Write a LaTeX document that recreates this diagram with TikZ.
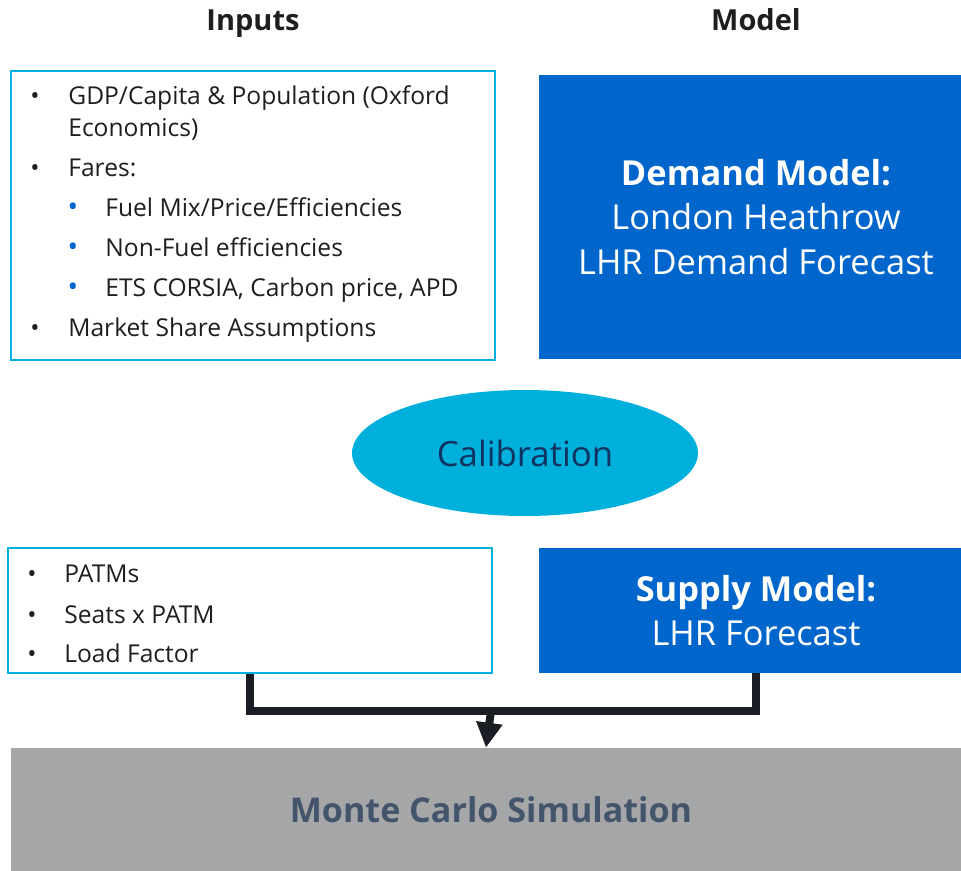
\documentclass[tikz,border=0pt]{standalone}
\usepackage{fontspec}
\setmainfont{Open Sans}
\usetikzlibrary{arrows.meta,positioning,calc,shapes.geometric}
\definecolor{incyan}{HTML}{00B0E0}
\definecolor{modblue}{HTML}{0066CC}
\definecolor{calfill}{HTML}{00B0DC}
\definecolor{caltext}{HTML}{0F3462}
\definecolor{mcgray}{HTML}{A5A6A8}
\definecolor{mctext}{HTML}{44546A}
\definecolor{flowink}{HTML}{1A1D24}
\definecolor{txt}{HTML}{1E1E1E}
\newlength\pix
\setlength\pix{0.02cm}
\tikzset{
  inbox/.style={draw=incyan, line width=2.2\pix, minimum width=484\pix, inner sep=0pt},
  modbox/.style={fill=modblue, text=white, align=center, minimum width=422\pix, inner sep=0pt,
    font=\fontsize{19.6}{25.5}\selectfont},
  flowline/.style={draw=flowink, line width=8\pix},
}

\begin{document}
\begin{tikzpicture}[
  x=0.02cm, y=-0.02cm,
  item/.style={anchor=base west, inner sep=0pt, text=txt, font=\fontsize{14}{16}\selectfont},
  dot/.style={anchor=base, inner sep=0pt, text=txt, font=\fontsize{14}{16}\selectfont},
  head/.style={anchor=base, font=\fontsize{16.5}{19}\selectfont\bfseries, text=txt},
]
  \useasboundingbox (0,0) rectangle (961,871);
  \node[head] (hin) at (253,31) {Inputs};
  \node[head] (hmod) at (756,31) {Model};

  % inputs for the demand model
  \node[inbox, minimum height=289\pix] (in1) at (253,215.5) {};
  \foreach \y [count=\i] in {105,177,337}
    \node[dot] (d\i) at (35,\y) {•};
  \foreach \y [count=\i] in {217,257,297}
    \node[dot, text=modblue, font=\fontsize{16}{16}\selectfont] (s\i) at (73,\y) {•};
  \node[item] (g1) at (68,105) {GDP/Capita \& Population (Oxford};
  \node[item] (g2) at (68,137) {Economics)};
  \node[item] (fa) at (68,177) {Fares:};
  \node[item] (f1) at (105,217) {Fuel Mix/Price/Efficiencies};
  \node[item] (f2) at (105,257) {Non-Fuel efficiencies};
  \node[item] (f3) at (105,297) {ETS CORSIA, Carbon price, APD};
  \node[item] (ms) at (68,337) {Market Share Assumptions};

  \node[modbox, minimum height=284\pix] (dem) at (750,217)
    {\hspace{12\pix}\textbf{Demand Model:}\\\hspace{12\pix}London Heathrow\\\hspace{12\pix}LHR Demand Forecast};

  \node[ellipse, fill=calfill, text=caltext, minimum width=346\pix, minimum height=126\pix,
    inner sep=0pt, font=\fontsize{19.8}{22}\selectfont] (cal) at (525,453) {Calibration};

  % inputs for the supply model
  \node[inbox, minimum height=125\pix] (in2) at (250,610.5) {};
  \foreach \y [count=\i] in {583,623,663}
    \node[dot] (e\i) at (32,\y) {•};
  \node[item] (p1) at (64,583) {PATMs};
  \node[item] (p2) at (64,623) {Seats x PATM};
  \node[item] (p3) at (64,663) {Load Factor};

  \node[modbox, minimum height=125\pix] (sup) at (750,610.5)
    {\hspace{12\pix}\textbf{Supply Model:}\\\hspace{12\pix}LHR Forecast};

  \node[fill=mcgray, text=mctext, minimum width=950\pix, minimum height=123\pix, inner sep=0pt,
    font=\fontsize{19.4}{23}\selectfont\bfseries] (mc) at (486,809.5) {\hspace{10\pix}Monte Carlo Simulation};

  \coordinate (jn) at (491,711);
  \draw[flowline] (in2.south) |- (jn) -| ([xshift=6\pix]sup.south);
  \draw[flowline, -{Triangle[width=0.5cm,length=0.5cm]}] (jn) -- (mc.north);
\end{tikzpicture}
\end{document}
